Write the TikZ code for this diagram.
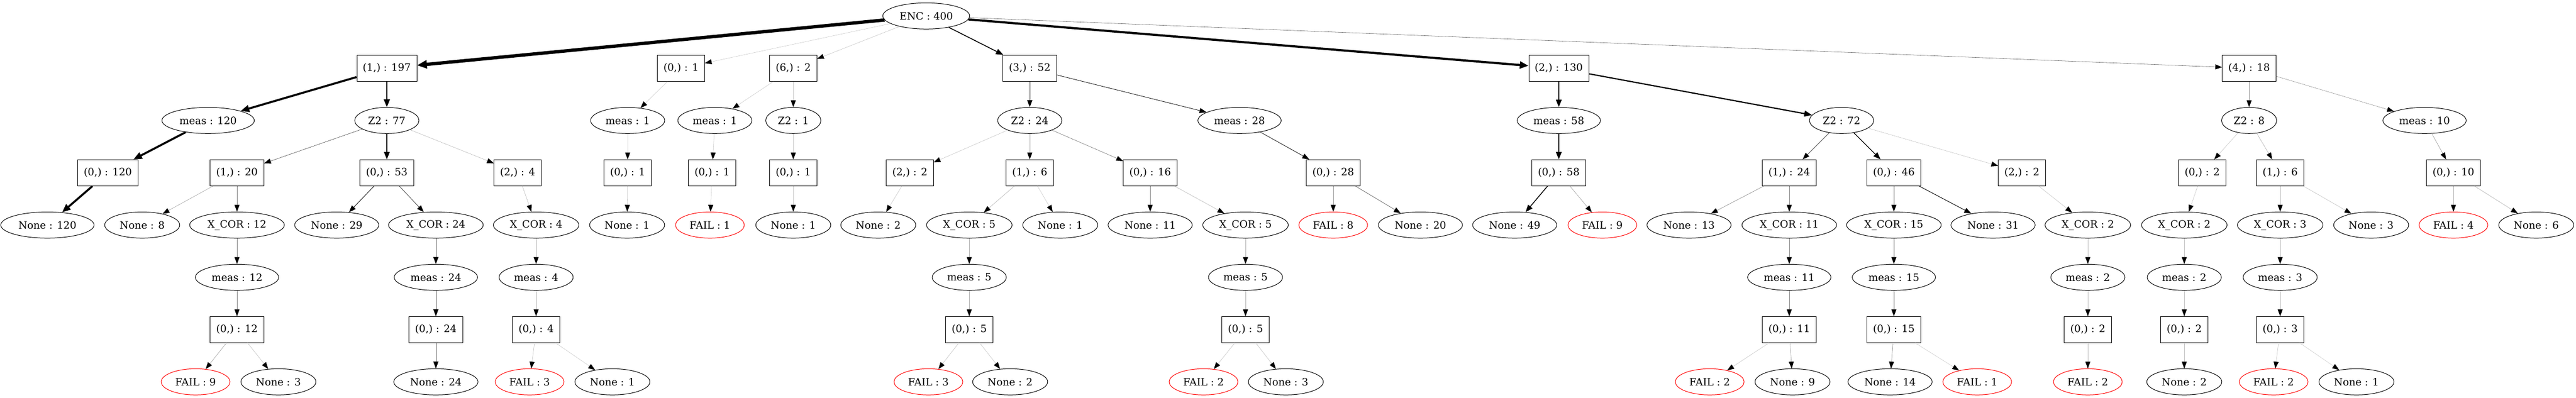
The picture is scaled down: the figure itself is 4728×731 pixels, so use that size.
\documentclass[tikz,border=0pt]{standalone}
\usepackage{fontspec}
\setmainfont{DejaVu Serif}
\usepackage{tikz}
\usetikzlibrary{arrows.meta,shapes.geometric}
\definecolor{FailRed}{HTML}{ff0000}

\begin{document}
\begin{tikzpicture}[x=0.75pt,y=-0.75pt,
        every node/.style={font=\fontsize{14pt}{16pt}\selectfont,line width=0.75pt},
        ovalnode/.style={ellipse,draw=black,minimum width=54pt,minimum height=36pt,
                     inner xsep=5.5pt,inner ysep=2pt},
        failnode/.style={ovalnode,draw=FailRed},
        boxnode/.style={rectangle,draw=black,minimum width=54pt,minimum height=36pt,
                     inner xsep=8.2pt,inner ysep=2pt},
        flow/.style={-{Triangle[length=9pt 1,width=6.5pt 1,color=black]}}]
        \useasboundingbox (0,0) rectangle (4728,731);
        % root and first level
        \node[ovalnode] (enc) at (1700,29.3) {ENC : 400};
        \node[boxnode] (a1) at (710,125.3) {(1,) : 197};
        \node[boxnode] (a0) at (1250,125.3) {(0,) : 1};
        \node[boxnode] (a6) at (1456,125.3) {(6,) : 2};
        \node[boxnode] (a3) at (1890,125.3) {(3,) : 52};
        \node[boxnode] (a2) at (2861,125.3) {(2,) : 130};
        \node[boxnode] (a4) at (4128,125.3) {(4,) : 18};
        % branch (1,)
        \node[ovalnode] (a1m) at (382,221.3) {meas : 120};
        \node[boxnode] (a1m0) at (198,317.3) {(0,) : 120};
        \node[ovalnode] (a1m0n) at (87,413.3) {None : 120};
        \node[ovalnode] (a1z) at (710,221.3) {Z2 : 77};
        \node[boxnode] (a1z1) at (435,317.3) {(1,) : 20};
        \node[ovalnode] (a1z1n) at (261,413.3) {None : 8};
        \node[ovalnode] (a1z1x) at (435,413.3) {X\_COR : 12};
        \node[ovalnode] (a1z1xm) at (435,509.3) {meas : 12};
        \node[boxnode] (a1z1xp) at (435,605.3) {(0,) : 12};
        \node[failnode] (a1z1xf) at (359,701.3) {FAIL : 9};
        \node[ovalnode] (a1z1xn) at (511,701.3) {None : 3};
        \node[boxnode] (a1z0) at (710,317.3) {(0,) : 53};
        \node[ovalnode] (a1z0n) at (618,413.3) {None : 29};
        \node[ovalnode] (a1z0x) at (800,413.3) {X\_COR : 24};
        \node[ovalnode] (a1z0xm) at (800,509.3) {meas : 24};
        \node[boxnode] (a1z0xp) at (800,605.3) {(0,) : 24};
        \node[ovalnode] (a1z0xn) at (800,701.3) {None : 24};
        \node[boxnode] (a1z2) at (950,317.3) {(2,) : 4};
        \node[ovalnode] (a1z2x) at (984,413.3) {X\_COR : 4};
        \node[ovalnode] (a1z2xm) at (984,509.3) {meas : 4};
        \node[boxnode] (a1z2xp) at (984,605.3) {(0,) : 4};
        \node[failnode] (a1z2xf) at (972,701.3) {FAIL : 3};
        \node[ovalnode] (a1z2xn) at (1124,701.3) {None : 1};
        % branches (0,) and (6,)
        \node[ovalnode] (a0m) at (1152,221.3) {meas : 1};
        \node[boxnode] (a0mp) at (1152,317.3) {(0,) : 1};
        \node[ovalnode] (a0mn) at (1151,413.3) {None : 1};
        \node[ovalnode] (a6m) at (1312,221.3) {meas : 1};
        \node[boxnode] (a6mp) at (1307,317.3) {(0,) : 1};
        \node[failnode] (a6mf) at (1303,413.3) {FAIL : 1};
        \node[ovalnode] (a6z) at (1456,221.3) {Z2 : 1};
        \node[boxnode] (a6zp) at (1456,317.3) {(0,) : 1};
        \node[ovalnode] (a6zn) at (1456,413.3) {None : 1};
        % branch (3,)
        \node[ovalnode] (a3z) at (1890,221.3) {Z2 : 24};
        \node[boxnode] (a3z2) at (1670,317.3) {(2,) : 2};
        \node[ovalnode] (a3z2n) at (1612,413.3) {None : 2};
        \node[boxnode] (a3z1) at (1890,317.3) {(1,) : 6};
        \node[ovalnode] (a3z1x) at (1779,413.3) {X\_COR : 5};
        \node[ovalnode] (a3z1xm) at (1779,509.3) {meas : 5};
        \node[boxnode] (a3z1xp) at (1779,605.3) {(0,) : 5};
        \node[failnode] (a3z1xf) at (1704,701.3) {FAIL : 3};
        \node[ovalnode] (a3z1xn) at (1854,701.3) {None : 2};
        \node[ovalnode] (a3z1n) at (1946,413.3) {None : 1};
        \node[boxnode] (a3z0) at (2111,317.3) {(0,) : 16};
        \node[ovalnode] (a3z0n) at (2111,413.3) {None : 11};
        \node[ovalnode] (a3z0x) at (2286,413.3) {X\_COR : 5};
        \node[ovalnode] (a3z0xm) at (2286,509.3) {meas : 5};
        \node[boxnode] (a3z0xp) at (2286,605.3) {(0,) : 5};
        \node[failnode] (a3z0xf) at (2209,701.3) {FAIL : 2};
        \node[ovalnode] (a3z0xn) at (2360,701.3) {None : 3};
        \node[ovalnode] (a3m) at (2275,221.3) {meas : 28};
        \node[boxnode] (a3mp) at (2447,317.3) {(0,) : 28};
        \node[failnode] (a3mf) at (2447,413.3) {FAIL : 8};
        \node[ovalnode] (a3mn) at (2607,413.3) {None : 20};
        % branch (2,)
        \node[ovalnode] (a2m) at (2861,221.3) {meas : 58};
        \node[boxnode] (a2mp) at (2861,317.3) {(0,) : 58};
        \node[ovalnode] (a2mn) at (2780,413.3) {None : 49};
        \node[failnode] (a2mf) at (2941,413.3) {FAIL : 9};
        \node[ovalnode] (a2z) at (3380,221.3) {Z2 : 72};
        \node[boxnode] (a2z1) at (3284,317.3) {(1,) : 24};
        \node[ovalnode] (a2z1n) at (3100,413.3) {None : 13};
        \node[ovalnode] (a2z1x) at (3284,413.3) {X\_COR : 11};
        \node[ovalnode] (a2z1xm) at (3284,509.3) {meas : 11};
        \node[boxnode] (a2z1xp) at (3284,605.3) {(0,) : 11};
        \node[failnode] (a2z1xf) at (3138,701.3) {FAIL : 2};
        \node[ovalnode] (a2z1xn) at (3290,701.3) {None : 9};
        \node[boxnode] (a2z0) at (3476,317.3) {(0,) : 46};
        \node[ovalnode] (a2z0x) at (3476,413.3) {X\_COR : 15};
        \node[ovalnode] (a2z0xm) at (3476,509.3) {meas : 15};
        \node[boxnode] (a2z0xp) at (3476,605.3) {(0,) : 15};
        \node[ovalnode] (a2z0xn) at (3469,701.3) {None : 14};
        \node[failnode] (a2z0xf) at (3629,701.3) {FAIL : 1};
        \node[ovalnode] (a2z0n) at (3658,413.3) {None : 31};
        \node[boxnode] (a2z2) at (3711,317.3) {(2,) : 2};
        \node[ovalnode] (a2z2x) at (3832,413.3) {X\_COR : 2};
        \node[ovalnode] (a2z2xm) at (3832,509.3) {meas : 2};
        \node[boxnode] (a2z2xp) at (3832,605.3) {(0,) : 2};
        \node[failnode] (a2z2xf) at (3832,701.3) {FAIL : 2};
        % branch (4,)
        \node[ovalnode] (a4z) at (4128,221.3) {Z2 : 8};
        \node[boxnode] (a4z0) at (4042,317.3) {(0,) : 2};
        \node[ovalnode] (a4z0x) at (4009,413.3) {X\_COR : 2};
        \node[ovalnode] (a4z0xm) at (4009,509.3) {meas : 2};
        \node[boxnode] (a4z0xp) at (4009,605.3) {(0,) : 2};
        \node[ovalnode] (a4z0xn) at (4009,701.3) {None : 2};
        \node[boxnode] (a4z1) at (4185,317.3) {(1,) : 6};
        \node[ovalnode] (a4z1x) at (4185,413.3) {X\_COR : 3};
        \node[ovalnode] (a4z1xm) at (4185,509.3) {meas : 3};
        \node[boxnode] (a4z1xp) at (4185,605.3) {(0,) : 3};
        \node[failnode] (a4z1xf) at (4173,701.3) {FAIL : 2};
        \node[ovalnode] (a4z1xn) at (4325,701.3) {None : 1};
        \node[ovalnode] (a4z1n) at (4352,413.3) {None : 3};
        \node[ovalnode] (a4m) at (4450,221.3) {meas : 10};
        \node[boxnode] (a4mp) at (4503,317.3) {(0,) : 10};
        \node[failnode] (a4mf) at (4503,413.3) {FAIL : 4};
        \node[ovalnode] (a4mn) at (4655,413.3) {None : 6};
        % edges, width and shade follow the count
        \foreach \a/\b/\n in {enc/a1/197,enc/a0/1,enc/a6/2,enc/a3/52,enc/a2/130,enc/a4/18,
            a1/a1m/120,a1m/a1m0/120,a1m0/a1m0n/120,
            a1/a1z/77,a1z/a1z1/20,a1z1/a1z1n/8,a1z1/a1z1x/12,a1z1x/a1z1xm/12,
            a1z1xm/a1z1xp/12,a1z1xp/a1z1xf/9,a1z1xp/a1z1xn/3,
            a1z/a1z0/53,a1z0/a1z0n/29,a1z0/a1z0x/24,a1z0x/a1z0xm/24,a1z0xm/a1z0xp/24,
            a1z0xp/a1z0xn/24,
            a1z/a1z2/4,a1z2/a1z2x/4,a1z2x/a1z2xm/4,a1z2xm/a1z2xp/4,a1z2xp/a1z2xf/3,
            a1z2xp/a1z2xn/1,
            a0/a0m/1,a0m/a0mp/1,a0mp/a0mn/1,
            a6/a6m/1,a6m/a6mp/1,a6mp/a6mf/1,a6/a6z/1,a6z/a6zp/1,a6zp/a6zn/1,
            a3/a3z/24,a3z/a3z2/2,a3z2/a3z2n/2,a3z/a3z1/6,a3z1/a3z1x/5,a3z1x/a3z1xm/5,
            a3z1xm/a3z1xp/5,a3z1xp/a3z1xf/3,a3z1xp/a3z1xn/2,a3z1/a3z1n/1,
            a3z/a3z0/16,a3z0/a3z0n/11,a3z0/a3z0x/5,a3z0x/a3z0xm/5,a3z0xm/a3z0xp/5,
            a3z0xp/a3z0xf/2,a3z0xp/a3z0xn/3,
            a3/a3m/28,a3m/a3mp/28,a3mp/a3mf/8,a3mp/a3mn/20,
            a2/a2m/58,a2m/a2mp/58,a2mp/a2mn/49,a2mp/a2mf/9,
            a2/a2z/72,a2z/a2z1/24,a2z1/a2z1n/13,a2z1/a2z1x/11,a2z1x/a2z1xm/11,
            a2z1xm/a2z1xp/11,a2z1xp/a2z1xf/2,a2z1xp/a2z1xn/9,
            a2z/a2z0/46,a2z0/a2z0x/15,a2z0x/a2z0xm/15,a2z0xm/a2z0xp/15,
            a2z0xp/a2z0xn/14,a2z0xp/a2z0xf/1,a2z0/a2z0n/31,
            a2z/a2z2/2,a2z2/a2z2x/2,a2z2x/a2z2xm/2,a2z2xm/a2z2xp/2,a2z2xp/a2z2xf/2,
            a4/a4z/8,a4z/a4z0/2,a4z0/a4z0x/2,a4z0x/a4z0xm/2,a4z0xm/a4z0xp/2,
            a4z0xp/a4z0xn/2,
            a4z/a4z1/6,a4z1/a4z1x/3,a4z1x/a4z1xm/3,a4z1xm/a4z1xp/3,a4z1xp/a4z1xf/2,
            a4z1xp/a4z1xn/1,a4z1/a4z1n/3,
            a4/a4m/10,a4m/a4mp/10,a4mp/a4mf/4,a4mp/a4mn/6}{
          \pgfmathsetmacro\lw{max(0.4,0.023*\n)}
          \pgfmathsetmacro\gr{min(100,20+2.5*\n)}
          \draw[flow,line width=\lw pt,draw=black!\gr] (\a) -- (\b);
        }
      \end{tikzpicture}
\end{document}
